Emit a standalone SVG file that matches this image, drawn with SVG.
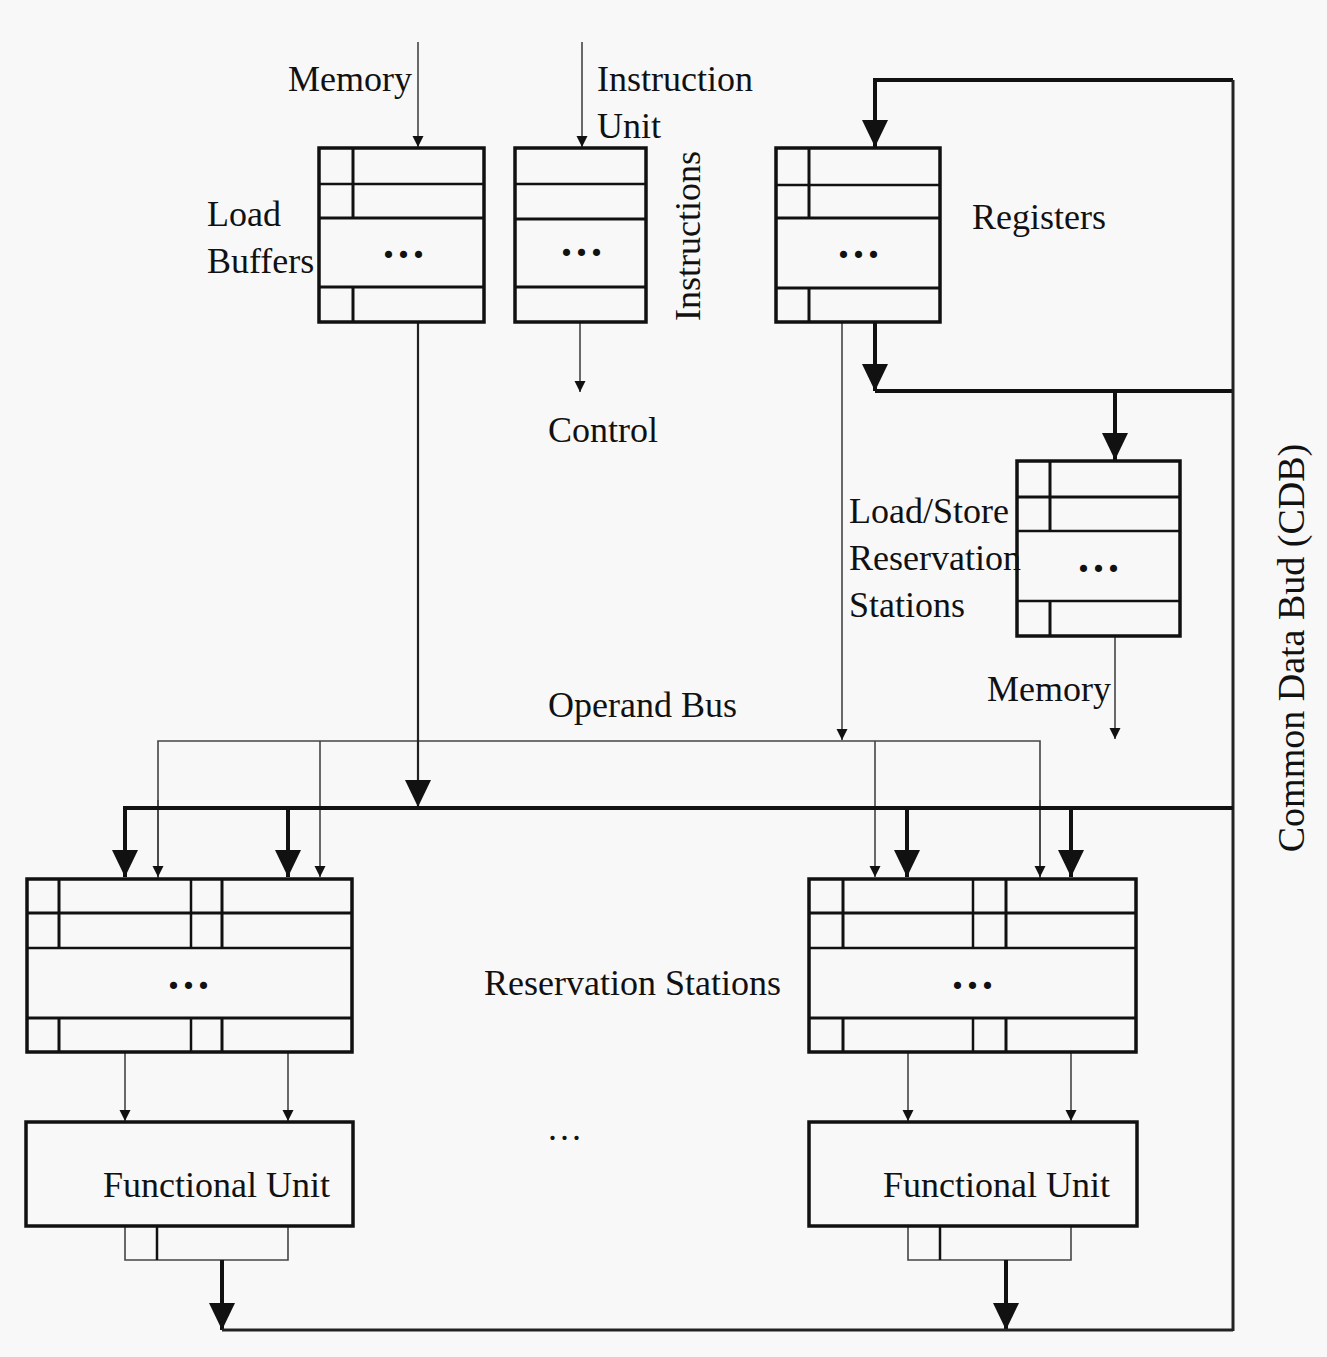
<svg xmlns="http://www.w3.org/2000/svg" width="1327" height="1357" viewBox="0 0 1327 1357">
<style>
.t{font-family:"Liberation Serif","Times New Roman",serif;font-size:36px;fill:#111}
.dots{font-family:"Liberation Serif","Times New Roman",serif;font-size:44px;font-weight:bold;letter-spacing:4px;fill:#111}
.box{fill:none;stroke:#111;stroke-width:3.5}
.ln{stroke:#111;stroke-width:3}
.lt{stroke:#111;stroke-width:2.5}
.thin{fill:none;stroke:#444;stroke-width:1.6}
.med{fill:none;stroke:#222;stroke-width:2.2}
.thick{fill:none;stroke:#111;stroke-width:4}
</style>
<defs>
<marker id="sa" markerUnits="userSpaceOnUse" markerWidth="12" markerHeight="12" refX="11" refY="5.5" orient="auto"><path d="M0,0 L11,5.5 L0,11 z" fill="#111"/></marker>
<marker id="ba" markerUnits="userSpaceOnUse" markerWidth="30" markerHeight="30" refX="27" refY="13" orient="auto"><path d="M0,0 L27,13 L0,26 z" fill="#111"/></marker>
</defs>
<rect x="0" y="0" width="1327" height="1357" fill="#f8f8f8"/>

<g id="connectors">
<line class="thin" x1="418" y1="42" x2="418" y2="147" marker-end="url(#sa)"/>
<line class="thin" x1="582" y1="42" x2="582" y2="147" marker-end="url(#sa)"/>
<line class="thin" x1="580" y1="323" x2="580" y2="392" marker-end="url(#sa)"/>
<polyline class="thick" points="1233,80 875,80 875,147" marker-end="url(#ba)"/>
<line class="thick" x1="875" y1="323" x2="875" y2="391" marker-end="url(#ba)"/>
<line class="thick" x1="875" y1="391" x2="1233" y2="391"/>
<line class="thick" x1="1115" y1="391" x2="1115" y2="460" marker-end="url(#ba)"/>
<line class="med" x1="1233" y1="80" x2="1233" y2="1331" style="stroke-width:3"/>
<line class="thin" x1="842" y1="323" x2="842" y2="740" marker-end="url(#sa)"/>
<line class="thin" x1="1115" y1="636" x2="1115" y2="739" marker-end="url(#sa)"/>
<polyline class="thin" points="158,878 158,741 1040,741 1040,878"/>
<line class="thin" x1="158" y1="800" x2="158" y2="877" marker-end="url(#sa)"/>
<line class="thin" x1="320" y1="741" x2="320" y2="877" marker-end="url(#sa)"/>
<line class="thin" x1="875" y1="741" x2="875" y2="877" marker-end="url(#sa)"/>
<line class="thin" x1="1040" y1="800" x2="1040" y2="877" marker-end="url(#sa)"/>
<line class="med" x1="418" y1="323" x2="418" y2="807" marker-end="url(#ba)"/>
<polyline class="thick" points="125,877 125,808 1233,808"/>
<line class="thick" x1="125" y1="830" x2="125" y2="877" marker-end="url(#ba)"/>
<line class="thick" x1="288" y1="808" x2="288" y2="877" marker-end="url(#ba)"/>
<line class="thick" x1="907" y1="808" x2="907" y2="877" marker-end="url(#ba)"/>
<line class="thick" x1="1071" y1="808" x2="1071" y2="877" marker-end="url(#ba)"/>
<line class="thin" x1="125" y1="1053" x2="125" y2="1121" marker-end="url(#sa)"/>
<line class="thin" x1="288" y1="1053" x2="288" y2="1121" marker-end="url(#sa)"/>
<line class="thin" x1="908" y1="1053" x2="908" y2="1121" marker-end="url(#sa)"/>
<line class="thin" x1="1071" y1="1053" x2="1071" y2="1121" marker-end="url(#sa)"/>
<polyline class="thin" points="125,1227 125,1260 288,1260 288,1227"/>
<line class="lt" x1="157" y1="1227" x2="157" y2="1260"/>
<line class="thick" x1="222" y1="1260" x2="222" y2="1330" marker-end="url(#ba)"/>
<polyline class="thin" points="908,1227 908,1260 1071,1260 1071,1227"/>
<line class="lt" x1="940" y1="1227" x2="940" y2="1260"/>
<line class="thick" x1="1006" y1="1260" x2="1006" y2="1330" marker-end="url(#ba)"/>
<line class="med" x1="222" y1="1330" x2="1233" y2="1330" style="stroke-width:3"/>
</g>

<g id="load-buffers">
<rect class="box" x="319" y="148" width="165" height="174"/>
<line class="lt" x1="319" y1="184" x2="484" y2="184"/>
<line class="ln" x1="319" y1="218" x2="484" y2="218"/>
<line class="ln" x1="319" y1="287" x2="484" y2="287"/>
<line class="ln" x1="353" y1="148" x2="353" y2="218"/>
<line class="ln" x1="353" y1="287" x2="353" y2="322"/>
<text class="dots" x="383" y="258">...</text>
<text class="t" x="207" y="226">Load</text>
<text class="t" x="207" y="273">Buffers</text>
</g>

<g id="instruction-queue">
<rect class="box" x="515" y="148" width="131" height="174"/>
<line class="lt" x1="515" y1="184" x2="646" y2="184"/>
<line class="ln" x1="515" y1="219" x2="646" y2="219"/>
<line class="ln" x1="515" y1="287" x2="646" y2="287"/>
<text class="dots" x="561" y="256">...</text>
<text class="t" x="597" y="91">Instruction</text>
<text class="t" x="597" y="138">Unit</text>
<text class="t" transform="translate(700,236) rotate(-90)" text-anchor="middle">Instructions</text>
<text class="t" x="548" y="442">Control</text>
<text class="t" x="288" y="91">Memory</text>
</g>

<g id="registers">
<rect class="box" x="776" y="148" width="164" height="174"/>
<line class="lt" x1="776" y1="185" x2="940" y2="185"/>
<line class="ln" x1="776" y1="218" x2="940" y2="218"/>
<line class="ln" x1="776" y1="288" x2="940" y2="288"/>
<line class="ln" x1="809" y1="148" x2="809" y2="218"/>
<line class="ln" x1="809" y1="288" x2="809" y2="322"/>
<text class="dots" x="838" y="258">...</text>
<text class="t" x="972" y="229">Registers</text>
</g>

<g id="load-store-rs">
<rect class="box" x="1017" y="461" width="163" height="175"/>
<line class="ln" x1="1017" y1="497" x2="1180" y2="497"/>
<line class="lt" x1="1017" y1="531" x2="1180" y2="531"/>
<line class="lt" x1="1017" y1="601" x2="1180" y2="601"/>
<line class="ln" x1="1050" y1="461" x2="1050" y2="531"/>
<line class="ln" x1="1050" y1="601" x2="1050" y2="636"/>
<text class="dots" x="1078" y="572">...</text>
<text class="t" x="849" y="523">Load/Store</text>
<text class="t" x="849" y="570">Reservation</text>
<text class="t" x="849" y="617">Stations</text>
<text class="t" x="987" y="701">Memory</text>
</g>

<g id="operand-bus-label">
<text class="t" x="548" y="717">Operand Bus</text>
</g>

<g id="rs-left">
<rect class="box" x="27" y="879" width="325" height="173"/>
<line class="ln" x1="27" y1="913" x2="352" y2="913"/>
<line class="lt" x1="27" y1="948" x2="352" y2="948"/>
<line class="ln" x1="27" y1="1018" x2="352" y2="1018"/>
<line class="ln" x1="59" y1="879" x2="59" y2="948"/>
<line class="lt" x1="191" y1="879" x2="191" y2="948"/>
<line class="ln" x1="222" y1="879" x2="222" y2="948"/>
<line class="ln" x1="59" y1="1018" x2="59" y2="1052"/>
<line class="lt" x1="191" y1="1018" x2="191" y2="1052"/>
<line class="ln" x1="222" y1="1018" x2="222" y2="1052"/>
<text class="dots" x="168" y="989">...</text>
</g>

<g id="rs-right">
<rect class="box" x="809" y="879" width="327" height="173"/>
<line class="ln" x1="809" y1="913" x2="1136" y2="913"/>
<line class="lt" x1="809" y1="948" x2="1136" y2="948"/>
<line class="ln" x1="809" y1="1018" x2="1136" y2="1018"/>
<line class="ln" x1="843" y1="879" x2="843" y2="948"/>
<line class="lt" x1="973" y1="879" x2="973" y2="948"/>
<line class="ln" x1="1006" y1="879" x2="1006" y2="948"/>
<line class="ln" x1="843" y1="1018" x2="843" y2="1052"/>
<line class="lt" x1="973" y1="1018" x2="973" y2="1052"/>
<line class="ln" x1="1006" y1="1018" x2="1006" y2="1052"/>
<text class="dots" x="952" y="989">...</text>
</g>

<g id="rs-label">
<text class="t" x="484" y="995">Reservation Stations</text>
<text class="t" x="548" y="1140" style="letter-spacing:3px">...</text>
</g>

<g id="fu-left">
<rect class="box" x="26" y="1122" width="327" height="104"/>
<text class="t" x="103" y="1197">Functional Unit</text>
</g>

<g id="fu-right">
<rect class="box" x="809" y="1122" width="328" height="104"/>
<text class="t" x="883" y="1197">Functional Unit</text>
</g>

<g id="cdb-label">
<text class="t" transform="translate(1304,648) rotate(-90)" text-anchor="middle" style="font-size:38px">Common Data Bud (CDB)</text>
</g>
</svg>
